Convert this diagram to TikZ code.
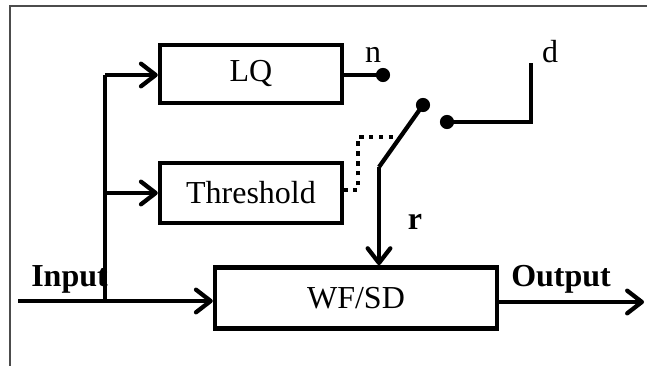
\documentclass[tikz,border=0pt]{standalone}
\usepackage{fontspec}
\setmainfont{Liberation Serif}
\usetikzlibrary{arrows.meta}
\begin{document}
\begin{tikzpicture}[x=0.75pt,y=-0.75pt,
  every node/.style={font=\fontsize{24}{28}\selectfont},
  blk/.style={draw,line width=3.3pt,minimum width=136.5pt,inner sep=0pt},
  wire/.style={line width=3.2pt},
  arr/.style={wire,-{Straight Barb[length=11pt,width=17pt,line width=3.2pt,round]}},
  dots/.style={line width=3.2pt,dash pattern=on 3.4pt off 4pt},
  lbl/.style={inner sep=0pt,anchor=base}]
\useasboundingbox (0,0) rectangle (647,366);
\draw[line width=1pt,color=black!70] (10,366) -- (10,6) -- (647,6);
% blocks
\node[blk,minimum height=43.5pt] (lq) at (251,74) {LQ};
\node[blk,minimum height=45pt] (thr) at (251,193) {Threshold};
\node[blk,minimum width=211.5pt,minimum height=46pt] (wf) at (356,298) {WF/SD};
% input / bus
\coordinate (in) at (18,301);
\coordinate (bb) at (105,301);
\coordinate (bt) at (105,75);
\coordinate (bm) at (105,193);
\draw[wire] (bb) -- (bt);
\draw[arr] (in) -- (in -| wf.west);
\draw[arr] (bt) -- (bt -| lq.west);
\draw[arr] (bm) -- (thr.west);
% output
\coordinate (out) at (644,302);
\draw[arr] (out -| wf.east) -- (out);
% n terminal
\coordinate (nd) at (383,75);
\draw[wire] (lq.east |- nd) -- (nd);
\fill (nd) circle (5.3pt);
% switch
\coordinate (st) at (423,105);
\coordinate (sr) at (447,122);
\coordinate (sc) at (531,122);
\coordinate (sd) at (531,63);
\coordinate (sp) at (379,167);
\fill (st) circle (5.3pt);
\fill (sr) circle (5.3pt);
\draw[wire,line join=miter] (sr) -- (sc) -- (sd);
\draw[wire] (sp) -- (st);
\draw[arr] (sp) -- (sp |- wf.north);
% dotted control
\coordinate (d1) at (343,190);
\coordinate (d2) at (358,190);
\coordinate (d3) at (358,137);
\coordinate (d4) at (398,137);
\draw[dots] (d1) -- (d2) -- (d3) -- (d4);
% labels
\node[lbl] (ln) at (373,63) {n};
\node[lbl] (ldd) at (550,63) {d};
\node[lbl] (lr) at (415,230) {\bfseries r};
\node[lbl,anchor=base west] (lin) at (31,287) {\bfseries Input};
\node[lbl,anchor=base west] (lout) at (511,287) {\bfseries Output};
\end{tikzpicture}
\end{document}
